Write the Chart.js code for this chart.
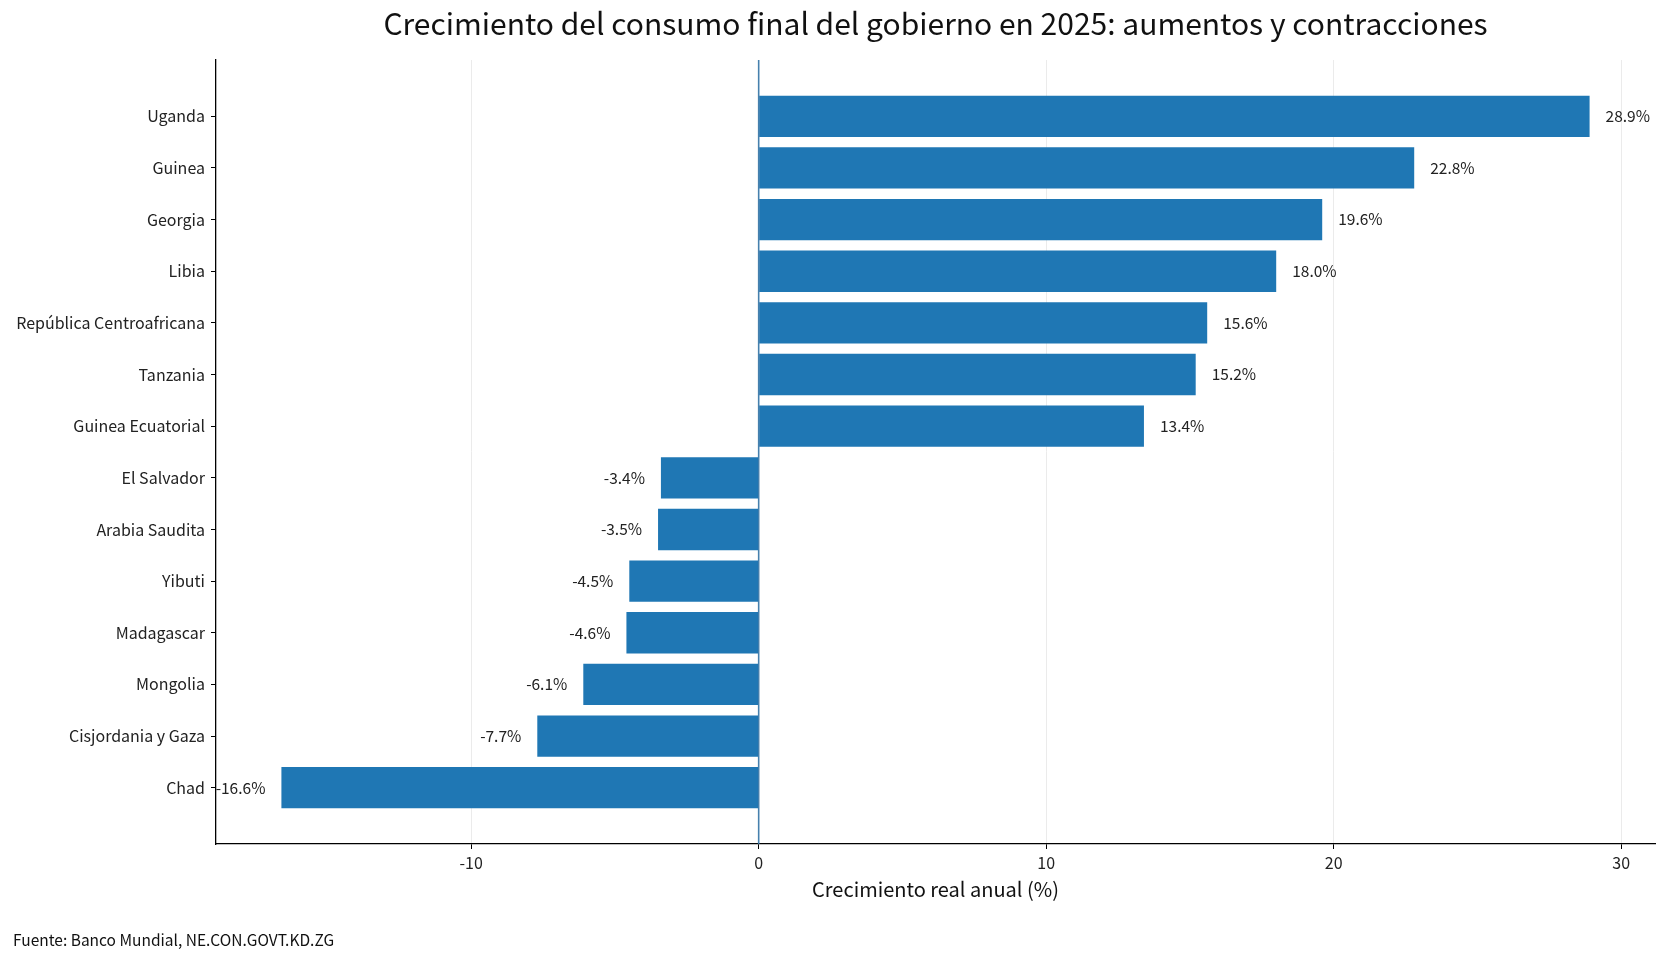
<!DOCTYPE html>
<html>
<head>
<meta charset="utf-8">
<script src="https://cdn.jsdelivr.net/npm/chart.js@4.4.1/dist/chart.umd.min.js"></script>
<style>
  html, body { margin: 0; padding: 0; background: #fff; }
  canvas { display: block; }
</style>
</head>
<body>
<canvas id="chart" width="1666" height="959"></canvas>
<script>
const countries = [
  "Uganda", "Guinea", "Georgia", "Libia", "República Centroafricana",
  "Tanzania", "Guinea Ecuatorial", "El Salvador", "Arabia Saudita",
  "Yibuti", "Madagascar", "Mongolia", "Cisjordania y Gaza", "Chad"
];
const growth = [28.9, 22.8, 19.6, 18.0, 15.6, 15.2, 13.4, -3.4, -3.5, -4.5, -4.6, -6.1, -7.7, -16.6];
const xTicks = [-10, 0, 10, 20, 30];

const titleText = "Crecimiento del consumo final del gobierno en 2025: aumentos y contracciones";
const xLabel = "Crecimiento real anual (%)";
const sourceText = "Fuente: Banco Mundial, NE.CON.GOVT.KD.ZG";

const FONT = "'Noto Sans CJK KR', 'Noto Sans', sans-serif";
const barColor = "#1f77b4";

// extra text, zero line and value labels
const decor = {
  id: "decor",
  afterDatasetsDraw(chart) {
    const ctx = chart.ctx;
    const area = chart.chartArea;
    const xs = chart.scales.x;
    ctx.save();
    // zero line
    const x0 = xs.getPixelForValue(0);
    ctx.strokeStyle = "rgba(52,116,166,0.9)";
    ctx.lineWidth = 1.6;
    ctx.beginPath();
    ctx.moveTo(x0, area.top);
    ctx.lineTo(x0, area.bottom);
    ctx.stroke();

    // value labels
    ctx.font = "15.5px " + FONT;
    ctx.fillStyle = "#222";
    ctx.textBaseline = "middle";
    chart.getDatasetMeta(0).data.forEach((bar, i) => {
      const v = growth[i];
      const txt = v.toFixed(1) + "%";
      if (v >= 0) {
        ctx.textAlign = "left";
        ctx.fillText(txt, bar.x + 16, bar.y);
      } else {
        ctx.textAlign = "right";
        ctx.fillText(txt, bar.x - 16, bar.y);
      }
    });

    // title
    const cx = (area.left + area.right) / 2;
    ctx.fillStyle = "#111";
    ctx.textAlign = "center";
    ctx.font = "30px " + FONT;
    ctx.fillText(titleText, cx, 24);

    // x axis title
    ctx.font = "20px " + FONT;
    ctx.fillText(xLabel, cx, 889);

    // source
    ctx.textAlign = "left";
    ctx.font = "15.5px " + FONT;
    ctx.fillText(sourceText, 13, 940);
    ctx.restore();
  }
};

new Chart(document.getElementById("chart"), {
  type: "bar",
  data: {
    datasets: [{
      data: growth.map((v, i) => ({ x: v, y: i })),
      backgroundColor: barColor,
      borderWidth: 0,
      barPercentage: 0.8,
      categoryPercentage: 1.0
    }]
  },
  options: {
    indexAxis: "y",
    responsive: false,
    animation: false,
    devicePixelRatio: 1,
    layout: { padding: { top: 60, right: 11, left: 0, bottom: 0 } },
    plugins: {
      legend: { display: false },
      tooltip: { enabled: false },
      title: { display: false }
    },
    scales: {
      x: {
        type: "linear",
        min: -18.875,
        max: 31.175,
        afterBuildTicks: (s) => { s.ticks = xTicks.map(v => ({ value: v })); },
        afterFit: (s) => { s.height = 115; },
        grid: {
          color: "#ebebeb",
          lineWidth: 1,
          tickColor: "#000",
          tickLength: 5
        },
        border: { display: true, color: "#000", width: 1.3 },
        ticks: {
          color: "#222",
          font: { family: FONT, size: 16 },
          padding: 4,
          maxRotation: 0
        }
      },
      y: {
        type: "linear",
        reverse: true,
        offset: false,
        min: -1.09,
        max: 14.09,
        afterBuildTicks: (s) => { s.ticks = countries.map((c, i) => ({ value: i })); },
        afterFit: (s) => { s.width = 216; },
        grid: {
          offset: false,
          drawOnChartArea: false,
          tickColor: "#000",
          tickLength: 5
        },
        border: { display: true, color: "#000", width: 1.3 },
        ticks: {
          color: "#222",
          font: { family: FONT, size: 16 },
          padding: 6,
          callback: (v) => countries[v]
        }
      }
    }
  },
  plugins: [decor]
});
</script>
</body>
</html>
